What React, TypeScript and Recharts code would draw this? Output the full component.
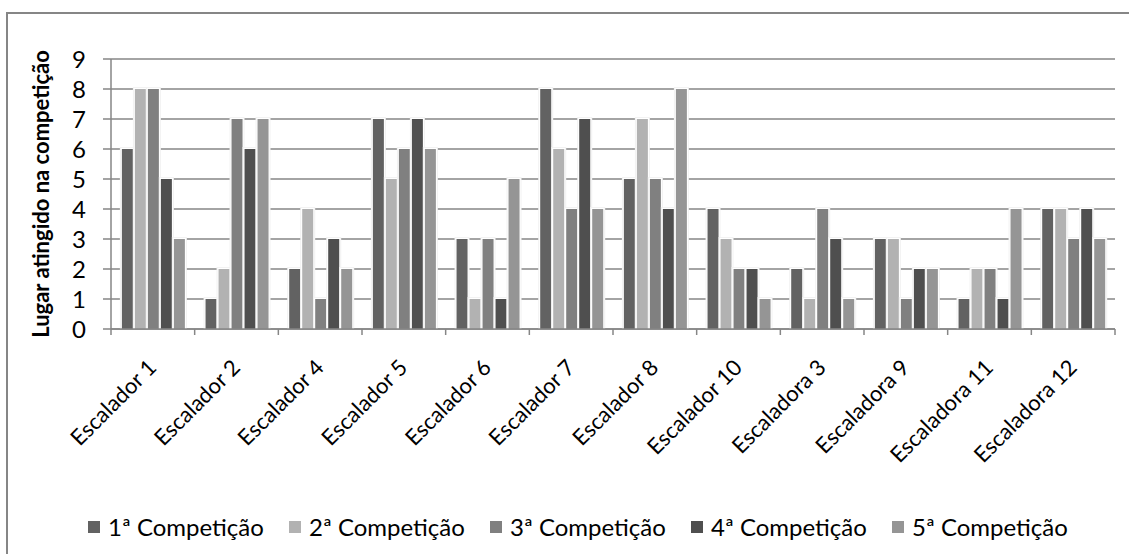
import React from 'react';
import { BarChart, Bar, XAxis, YAxis, CartesianGrid, Label } from 'recharts';

// climbers, in the order they appear on the axis
const climbers = [
  'Escalador 1', 'Escalador 2', 'Escalador 4', 'Escalador 5', 'Escalador 6', 'Escalador 7',
  'Escalador 8', 'Escalador 10', 'Escaladora 3', 'Escaladora 9', 'Escaladora 11', 'Escaladora 12',
];

// place reached in each competition
const comp1 = [6, 1, 2, 7, 3, 8, 5, 4, 2, 3, 1, 4];
const comp2 = [8, 2, 4, 5, 1, 6, 7, 3, 1, 3, 2, 4];
const comp3 = [8, 7, 1, 6, 3, 4, 5, 2, 4, 1, 2, 3];
const comp4 = [5, 6, 3, 7, 1, 7, 4, 2, 3, 2, 1, 4];
const comp5 = [3, 7, 2, 6, 5, 4, 8, 1, 1, 2, 4, 3];

const yTicks = [0, 1, 2, 3, 4, 5, 6, 7, 8, 9];

const series = [
  { key: 'c1', name: '1ª Competição', color: '#626262', values: comp1 },
  { key: 'c2', name: '2ª Competição', color: '#b2b2b2', values: comp2 },
  { key: 'c3', name: '3ª Competição', color: '#808080', values: comp3 },
  { key: 'c4', name: '4ª Competição', color: '#4f4f4f', values: comp4 },
  { key: 'c5', name: '5ª Competição', color: '#959595', values: comp5 },
];

const data = climbers.map((name, i) => {
  const row: any = { name };
  series.forEach((s) => { row[s.key] = s.values[i]; });
  return row;
});

const FONT = 'Lato, "Open Sans", sans-serif';
const PLOT_LEFT = 111;
const PLOT_RIGHT = 1115;
const BAND = (PLOT_RIGHT - PLOT_LEFT) / climbers.length;

// rotated category label, plus the separator tick marks between categories
const ClimberTick = (props: any) => {
  const { x, y, payload, index } = props;
  const ax = x + 5;
  const ay = y + 40;
  return (
    <g>
      <line x1={x - BAND / 2} x2={x - BAND / 2} y1={y} y2={y + 6} stroke="#868686" strokeWidth={1.5} />
      {index === climbers.length - 1 && (
        <line x1={x + BAND / 2} x2={x + BAND / 2} y1={y} y2={y + 6} stroke="#868686" strokeWidth={1.5} />
      )}
      <text
        x={ax}
        y={ay}
        textAnchor="end"
        transform={`rotate(-45, ${ax}, ${ay})`}
        fontFamily={FONT}
        fontSize={22}
        fill="#000"
      >
        {payload.value}
      </text>
    </g>
  );
};

// bar with a thin white halo, so gridlines stop short of it
const HaloBar = (props: any) => {
  const { x, y, width, height, fill } = props;
  if (!height || height <= 0) return null;
  return (
    <g>
      <rect x={x - 2} y={y - 2} width={width + 4} height={height + 2} fill="#f2f2f2" />
      <rect x={x - 1} y={y - 1} width={width + 2} height={height + 1} fill="#ffffff" />
      <rect x={x} y={y} width={width} height={height} fill={fill} />
    </g>
  );
};

const App: React.FC = () => {
  return (
    <div style={{ position: 'absolute', left: 0, top: 0, width: 1129, height: 554, overflow: 'hidden', background: '#fff' }}>
      <div
        style={{
          position: 'absolute', left: 6, top: 12, width: 1200, height: 600,
          border: '2px solid #868686', boxSizing: 'border-box',
        }}
      />
      <div style={{ position: 'absolute', left: 0, top: 0 }}>
        <BarChart
          width={1129}
          height={554}
          data={data}
          margin={{ top: 59, right: 14, left: 0, bottom: 0 }}
          barCategoryGap="13%"
          barGap={2}
        >
          <CartesianGrid vertical={false} stroke="#868686" strokeWidth={1.5} />
          <XAxis
            dataKey="name"
            height={225}
            interval={0}
            tickLine={false}
            tickSize={0}
            tickMargin={0}
            axisLine={{ stroke: '#868686', strokeWidth: 1.5 }}
            tick={<ClimberTick />}
          />
          <YAxis
            width={111}
            domain={[0, 9]}
            ticks={yTicks}
            interval={0}
            tickSize={8}
            tickMargin={17}
            axisLine={{ stroke: '#868686', strokeWidth: 1.5 }}
            tickLine={{ stroke: '#868686', strokeWidth: 1.5 }}
            tick={{ fill: '#000', fontFamily: FONT, fontSize: 24 }}
          >
            <Label
              value="Lugar atingido na competição"
              angle={-90}
              position="insideLeft"
              offset={41}
              style={{ fontFamily: FONT, fontSize: 22, fontWeight: 'bold', fill: '#000', textAnchor: 'middle' }}
            />
          </YAxis>
          {series.map((s) => (
            <Bar
              key={s.key}
              dataKey={s.key}
              name={s.name}
              fill={s.color}
              shape={<HaloBar />}
              isAnimationActive={false}
            />
          ))}
        </BarChart>
      </div>
      <div
        style={{
          position: 'absolute', left: 88, top: 512, display: 'flex',
          fontFamily: FONT, fontSize: 24, color: '#000', whiteSpace: 'nowrap',
        }}
      >
        {series.map((s) => (
          <div key={s.key} style={{ display: 'flex', alignItems: 'center', width: 201 }}>
            <span style={{ display: 'inline-block', width: 12, height: 12, background: s.color, marginRight: 8 }} />
            <span>{s.name}</span>
          </div>
        ))}
      </div>
    </div>
  );
};

export default App;
